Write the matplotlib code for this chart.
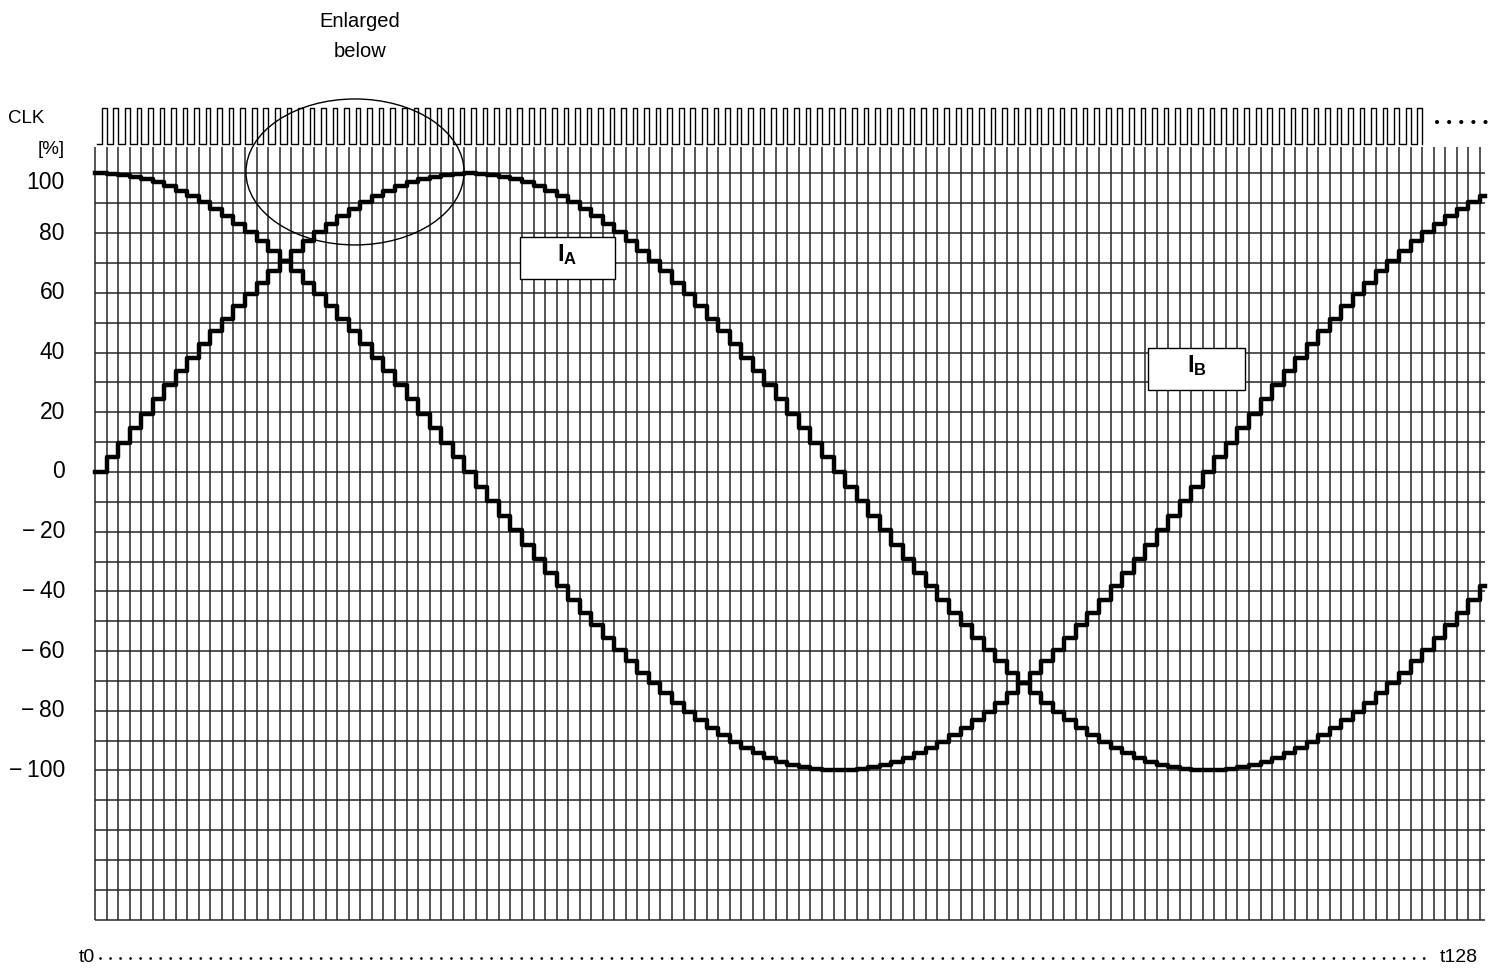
import numpy as np
import matplotlib
matplotlib.use("Agg")
import matplotlib.pyplot as plt
from matplotlib.patches import Ellipse, Rectangle

plt.rcParams['font.family'] = ['Liberation Sans', 'DejaVu Sans']
plt.rcParams['mathtext.fontset'] = 'custom'
plt.rcParams['mathtext.rm'] = 'Liberation Sans'
plt.rcParams['mathtext.bf'] = 'Liberation Sans:bold'

# microstep index 0..120 (one step per clock)
steps = np.arange(121)

# coil current A [%]
ia = [0, 4.9, 9.8, 14.7, 19.5, 24.3, 29.0, 33.7, 38.3, 42.8, 47.1, 51.4, 55.6, 59.6, 63.4, 67.2,
      70.7, 74.1, 77.3, 80.3, 83.1, 85.8, 88.2, 90.4, 92.4, 94.2, 95.7, 97.0, 98.1, 98.9, 99.5, 99.9,
      100,
      99.9, 99.5, 98.9, 98.1, 97.0, 95.7, 94.2, 92.4, 90.4, 88.2, 85.8, 83.1, 80.3, 77.3, 74.1, 70.7,
      67.2, 63.4, 59.6, 55.6, 51.4, 47.1, 42.8, 38.3, 33.7, 29.0, 24.3, 19.5, 14.7, 9.8, 4.9, 0,
      -4.9, -9.8, -14.7, -19.5, -24.3, -29.0, -33.7, -38.3, -42.8, -47.1, -51.4, -55.6, -59.6, -63.4,
      -67.2, -70.7, -74.1, -77.3, -80.3, -83.1, -85.8, -88.2, -90.4, -92.4, -94.2, -95.7, -97.0, -98.1,
      -98.9, -99.5, -99.9, -100,
      -99.9, -99.5, -98.9, -98.1, -97.0, -95.7, -94.2, -92.4, -90.4, -88.2, -85.8, -83.1, -80.3,
      -77.3, -74.1, -70.7, -67.2, -63.4, -59.6, -55.6, -51.4, -47.1, -42.8, -38.3]

# coil current B [%]
ib = [100, 99.9, 99.5, 98.9, 98.1, 97.0, 95.7, 94.2, 92.4, 90.4, 88.2, 85.8, 83.1, 80.3, 77.3, 74.1,
      70.7, 67.2, 63.4, 59.6, 55.6, 51.4, 47.1, 42.8, 38.3, 33.7, 29.0, 24.3, 19.5, 14.7, 9.8, 4.9, 0,
      -4.9, -9.8, -14.7, -19.5, -24.3, -29.0, -33.7, -38.3, -42.8, -47.1, -51.4, -55.6, -59.6, -63.4,
      -67.2, -70.7, -74.1, -77.3, -80.3, -83.1, -85.8, -88.2, -90.4, -92.4, -94.2, -95.7, -97.0, -98.1,
      -98.9, -99.5, -99.9, -100,
      -99.9, -99.5, -98.9, -98.1, -97.0, -95.7, -94.2, -92.4, -90.4, -88.2, -85.8, -83.1, -80.3,
      -77.3, -74.1, -70.7, -67.2, -63.4, -59.6, -55.6, -51.4, -47.1, -42.8, -38.3, -33.7, -29.0,
      -24.3, -19.5, -14.7, -9.8, -4.9, 0,
      4.9, 9.8, 14.7, 19.5, 24.3, 29.0, 33.7, 38.3, 42.8, 47.1, 51.4, 55.6, 59.6, 63.4, 67.2, 70.7,
      74.1, 77.3, 80.3, 83.1, 85.8, 88.2, 90.4, 92.4]

ytick_vals = [100, 80, 60, 40, 20, 0, -20, -40, -60, -80, -100]
ytick_text = ['100', '80', '60', '40', '20', '0',
              '\u2212\u200920', '\u2212\u200940', '\u2212\u200960', '\u2212\u200980', '\u2212\u2009100']
n_clk = 115
x_end = 120.43

fig = plt.figure(figsize=(15, 9.72), dpi=100)
ax = fig.add_axes([0, 0, 1, 1])
ax.set_xlim(-8.232, 121.75)
ax.set_ylim(-167.5, 158.1)
ax.axis('off')

grid_c = '#262626'
ax.hlines(np.arange(-150, 101, 10), 0, x_end, color=grid_c, lw=1.1, zorder=1)
ax.vlines(steps[:-1].tolist() + [120], -150, 108.9, color=grid_c, lw=1.1, zorder=1)

# stepped currents
xs = np.append(steps, x_end)
ax.step(xs, np.append(ia, ia[-1]), where='post', color='black', lw=3.2, zorder=3)
ax.step(xs, np.append(ib, ib[-1]), where='post', color='black', lw=3.2, zorder=3)

# clock
cx, cy = [0.15], [109.7]
for k in range(n_clk):
    cx += [k + 0.6, k + 0.6, k + 1.0, k + 1.0]
    cy += [109.7, 122.0, 122.0, 109.7]
ax.plot(cx, cy, color='black', lw=1.0, zorder=3)
ax.plot([116.3, 120.5], [117.4, 117.4], color='black', lw=3,
        linestyle=(0, (0.01, 2.9)), dash_capstyle='round')

# y labels
for v, t in zip(ytick_vals, ytick_text):
    yy = 97 if v == 100 else v
    ax.text(-2.6, yy, t, ha='right', va='center', fontsize=16.5)
ax.text(-7.5, 118.3, 'CLK', ha='left', va='center', fontsize=13.5)
ax.text(-2.6, 107.9, '[%]', ha='right', va='center', fontsize=13.5)

# time axis
ax.text(0.0, -162.8, 't0', ha='right', va='center', fontsize=14)
ax.text(116.5, -162.8, 't128', ha='left', va='center', fontsize=14)
ax.plot([0.45, 115.9], [-162.8, -162.8], color='black', lw=2,
        linestyle=(0, (0.01, 3.6)), dash_capstyle='round')

# enlarged marker
ax.add_patch(Ellipse((22.53, 100.5), 18.9, 48.9, fill=False, ec='black', lw=1.0, zorder=4))
ax.text(22.96, 150.8, 'Enlarged', ha='center', va='center', fontsize=14.5)
ax.text(22.96, 140.7, 'below', ha='center', va='center', fontsize=14.5)

# labels
for (x0, x1, y0, y1, lab) in [(36.83, 45.06, 64.7, 78.7, r'$\mathbf{I_A}$'),
                               (91.25, 99.65, 27.5, 41.5, r'$\mathbf{I_B}$')]:
    ax.add_patch(Rectangle((x0, y0), x1 - x0, y1 - y0, fc='white', ec='black', lw=1.0, zorder=5))
    ax.text((x0 + x1) / 2, (y0 + y1) / 2 + 1, lab, ha='center', va='center', fontsize=17, zorder=6)

fig.savefig('out.png', dpi=100)
